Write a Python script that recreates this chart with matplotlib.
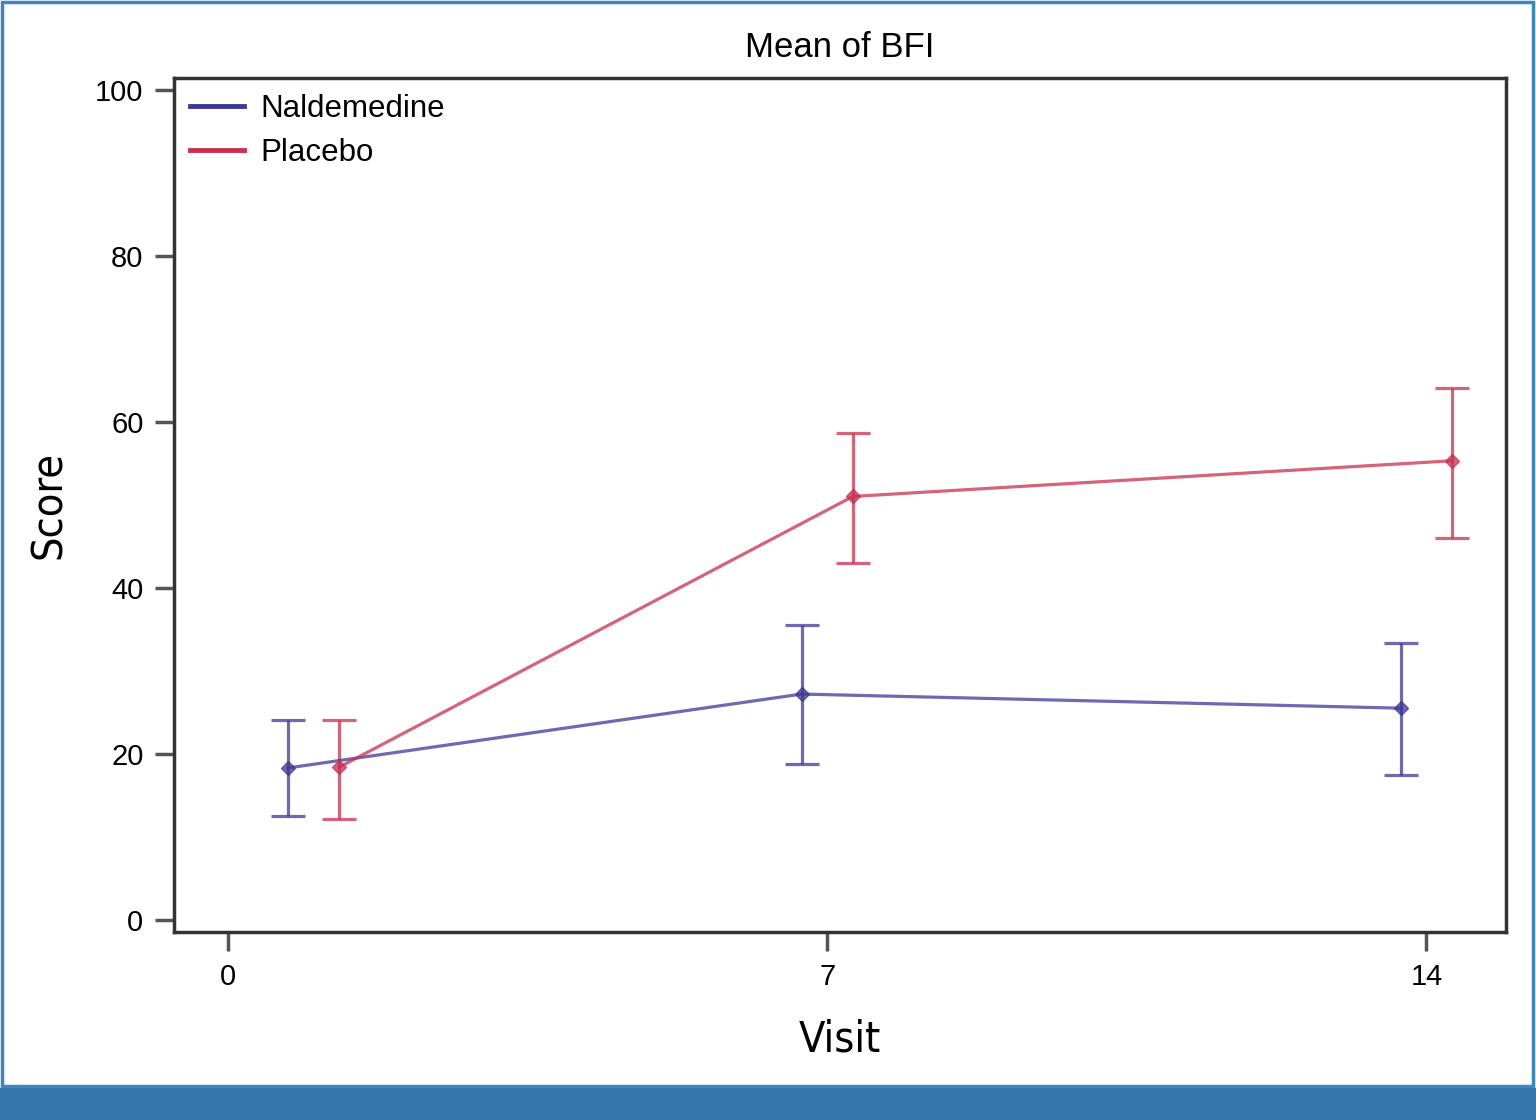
import numpy as np
import matplotlib.pyplot as plt
from matplotlib.patches import Rectangle

# Datos
visitas = [1, 7, 14]
nald_media = [18.3, 27.2, 25.5]
nald_sup = [24.1, 35.5, 33.3]
nald_inf = [12.5, 18.8, 17.5]
plac_media = [18.4, 51.0, 55.3]
plac_sup = [24.1, 58.6, 64.1]
plac_inf = [12.2, 43.0, 46.0]
ticks_x = [0, 7, 14]
ticks_y = [0, 20, 40, 60, 80, 100]

plt.rcParams['font.family'] = ['Liberation Sans', 'DejaVu Sans']

fig = plt.figure(figsize=(15.36, 11.2), dpi=100)
ax = fig.add_axes([0.1133, 0.1679, 0.8672, 0.7625])

azul = '#3d3796'
rojo = '#c8304f'
desp = 0.3

def serie(x, m, sup, inf, color, nombre):
    x = np.array(x, dtype=float)
    m = np.array(m)
    err = [m - np.array(inf), np.array(sup) - m]
    ax.errorbar(x, m, yerr=err, color=color, alpha=0.75, lw=2.3,
                capsize=12, capthick=2.3, marker='D', ms=7, mfc=color, mec=color)
    ax.plot([], [], color=color, lw=3.5, label=nombre)

serie(np.array(visitas) - desp, nald_media, nald_sup, nald_inf, azul, 'Naldemedine')
serie(np.array(visitas) + desp, plac_media, plac_sup, plac_inf, rojo, 'Placebo')

ax.set_xlim(-0.63, 14.93)
ax.set_ylim(-1.45, 101.4)
ax.set_xticks(ticks_x)
ax.set_yticks(ticks_y)
ax.tick_params(axis='both', direction='out', length=14, width=2.5, color='#555555',
               labelsize=21, pad=8)
for s in ax.spines.values():
    s.set_linewidth(2.5)
    s.set_color('#333333')

ax.set_title('Mean of BFI', fontsize=25, pad=15)
ax.set_xlabel('Visit', fontsize=31, family='DejaVu Sans', fontstretch='condensed', labelpad=20)
ax.set_ylabel('Score', fontsize=31, family='DejaVu Sans', fontstretch='condensed', labelpad=18)

leg = ax.legend(loc='upper left', frameon=False, fontsize=22.5, handlelength=1.75,
                handletextpad=0.5, labelspacing=0.45, borderaxespad=0.1)

# marco azul y barra inferior
fig.patches.append(Rectangle((0.001, 0.03), 0.997, 0.968, transform=fig.transFigure,
                             fill=False, ec='#3f86c0', lw=2.5))
fig.patches.append(Rectangle((0, 0), 1, 0.0285, transform=fig.transFigure,
                             fc='#3576ab', ec='none'))

fig.savefig('out.png', dpi=100)
